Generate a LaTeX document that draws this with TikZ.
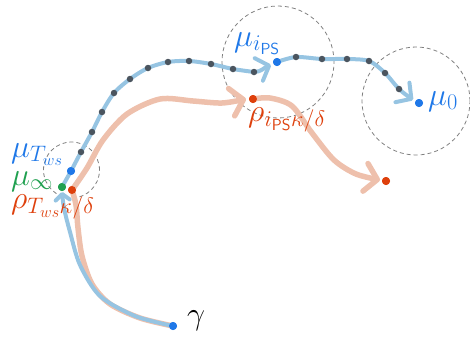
\RequirePackage{fix-cm}
\documentclass[tikz,border=0pt]{standalone}
\usepackage{amsmath}
\usepackage{xcolor}
\usetikzlibrary{arrows.meta,calc}

\definecolor{pathblue}{RGB}{150,196,226}
\definecolor{pathred}{RGB}{238,192,172}
\definecolor{dotblue}{RGB}{31,120,232}
\definecolor{dotgreen}{RGB}{32,160,80}
\definecolor{dotred}{RGB}{222,64,12}
\definecolor{dotgray}{RGB}{75,85,95}

\tikzset{
    pt/.style={circle, fill=#1, inner sep=0pt, minimum size=8pt},
    tick/.style={circle, fill=dotgray, inner sep=0pt, minimum size=6.5pt},
    bluepath/.style={pathblue, line width=4pt, line cap=round, line join=round},
    redpath/.style={pathred, line width=5.5pt, line cap=round, line join=round},
    bhead/.style={-{Straight Barb[length=11pt,width=24pt,round]}},
    shead/.style={-{Straight Barb[length=6pt,width=14pt,round]}},
    rhead/.style={-{Straight Barb[length=12pt,width=28pt,round]}},
    ball/.style={gray, line width=0.8pt, dash pattern=on 4pt off 3pt},
    lbl/.style={anchor=base west, inner sep=0pt, font=\fontsize{32}{36}\selectfont},
}

\begin{document}
\begin{tikzpicture}[x=1pt, y=-1pt]
    \useasboundingbox (0,0) rectangle (470,341);

    \node[pt=dotblue] (gamma) at (173,326) {};
    \node[pt=dotgreen] (minf) at (62,187) {};
    \node[pt=dotblue] (mtws) at (71,171) {};
    \node[pt=dotred] (rtws) at (72,190) {};
    \node[pt=dotblue] (mips) at (277,62) {};
    \node[pt=dotred] (rips) at (253,99) {};
    \node[pt=dotblue] (mzero) at (419,103) {};
    \node[pt=dotred] (rend) at (386,181) {};

    % balls
    \draw[ball] (71.5,170) circle (28pt);
    \draw[ball] (278,62) circle (56pt);
    \draw[ball] (416,101) circle (54pt);

    % rho paths
    \draw[redpath] plot[smooth] coordinates {(gamma) (140,318) (110,304) (92,284) (82,256) (78,228) (76,205) (rtws)};
    \draw[redpath, rhead] plot[smooth] coordinates {(rtws) (87,168) (103,140) (127,114) (160,99) (193,101) (222,103) ($(rips)+(-7,0)$)};
    \draw[redpath, rhead] plot[smooth] coordinates {(rips) (270,98) (292,106) (312,133) (334,160) (356,174) ($(rend)+(-6,-1)$)};

    % mu paths
    \draw[bluepath, shead] plot[smooth] coordinates {(gamma) (135,316) (100,296) (80,265) (70,232) (64,208) ($(minf)+(0,5)$)};
    \draw[bluepath] plot[smooth] coordinates {(minf) (mtws) (81,152) (92,132) (102,112) (114,93) (130,79) (148,68) (168,62) (189,61) (211,64) (233,69) (254,72)};
    \draw[bluepath, bhead] (254,72) to[out=0, in=200] ($(mips)+(-6,3)$);
    \draw[bluepath, bhead] plot[smooth] coordinates {(mips) (296,57) (322,59) (347,59) (369,61) (385,73) (399,89) ($(mzero)+(-6,-3)$)};

    \foreach \p [count=\i] in {(81,152),(92,132),(102,112),(114,93),(130,79),(148,68),(168,62),(189,61),(211,64),(233,69),(254,72)}
        \node[tick] (a\i) at \p {};
    \foreach \p [count=\i] in {(296,57),(322,59),(347,59),(369,61),(385,73),(399,89)}
        \node[tick] (b\i) at \p {};

    % redraw the points on top
    \foreach \n/\c in {gamma/dotblue, minf/dotgreen, mtws/dotblue, rtws/dotred, mips/dotblue, rips/dotred, mzero/dotblue, rend/dotred}
        \fill[\c] (\n) circle (4pt);

    \node[lbl, text=dotblue] (lmtws) at (11,157) {$\mu_{T_{ws}}$};
    \node[lbl, text=dotgreen] (lminf) at (11,185) {$\mu_\infty$};
    \node[lbl, text=dotred] (lrtws) at (11,208) {$\rho_{T_{ws}\kappa/\delta}$};
    \node[lbl, text=dotblue] (lmips) at (234,46) {$\mu_{i_{\mathsf{PS}}}$};
    \node[lbl, text=dotred] (lrips) at (248,121) {$\rho_{i_{\mathsf{PS}}\kappa/\delta}$};
    \node[lbl, text=dotblue] (lmzero) at (428,105) {$\mu_0$};
    \node[lbl] (lgamma) at (187,324) {$\gamma$};
\end{tikzpicture}
\end{document}
